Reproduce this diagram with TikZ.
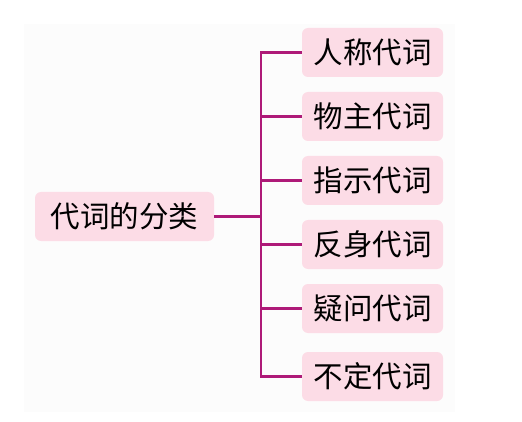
\documentclass[tikz,border=0pt]{standalone}
\usepackage{fontspec}
\setmainfont{Noto Sans CJK SC}
\definecolor{boxpink}{HTML}{FCDCE6}
\definecolor{linemag}{HTML}{AE1A78}
\definecolor{bgpanel}{HTML}{FCFCFC}
\begin{document}
\begin{tikzpicture}[x=1pt,y=-1pt,
  catbox/.style={fill=boxpink, rounded corners=6pt, minimum height=49pt, inner sep=0pt,
    font=\fontsize{29.5}{31}\selectfont, text=black},
  conn/.style={draw=linemag, line width=2.2pt}]
\useasboundingbox (0,0) rectangle (522,422);
\fill[bgpanel] (24,24) rectangle (455,412);
\node[catbox, minimum width=179pt] (root) at (124.5,216.5) {代词的分类};
\node[catbox, minimum width=141pt] (b1) at (372.5,52.5) {人称代词};
\node[catbox, minimum width=141pt] (b2) at (372.5,116.5) {物主代词};
\node[catbox, minimum width=141pt] (b3) at (372.5,180.5) {指示代词};
\node[catbox, minimum width=141pt] (b4) at (372.5,244.5) {反身代词};
\node[catbox, minimum width=141pt] (b5) at (372.5,308.5) {疑问代词};
\node[catbox, minimum width=141pt] (b6) at (372.5,376.5) {不定代词};
\coordinate (j) at (261,216.5);
\draw[conn] (root.east) -- (j);
\foreach \b in {b1,b2,b3,b4,b5,b6} {
  \draw[conn] (j) |- (\b.west);
}
\end{tikzpicture}
\end{document}
